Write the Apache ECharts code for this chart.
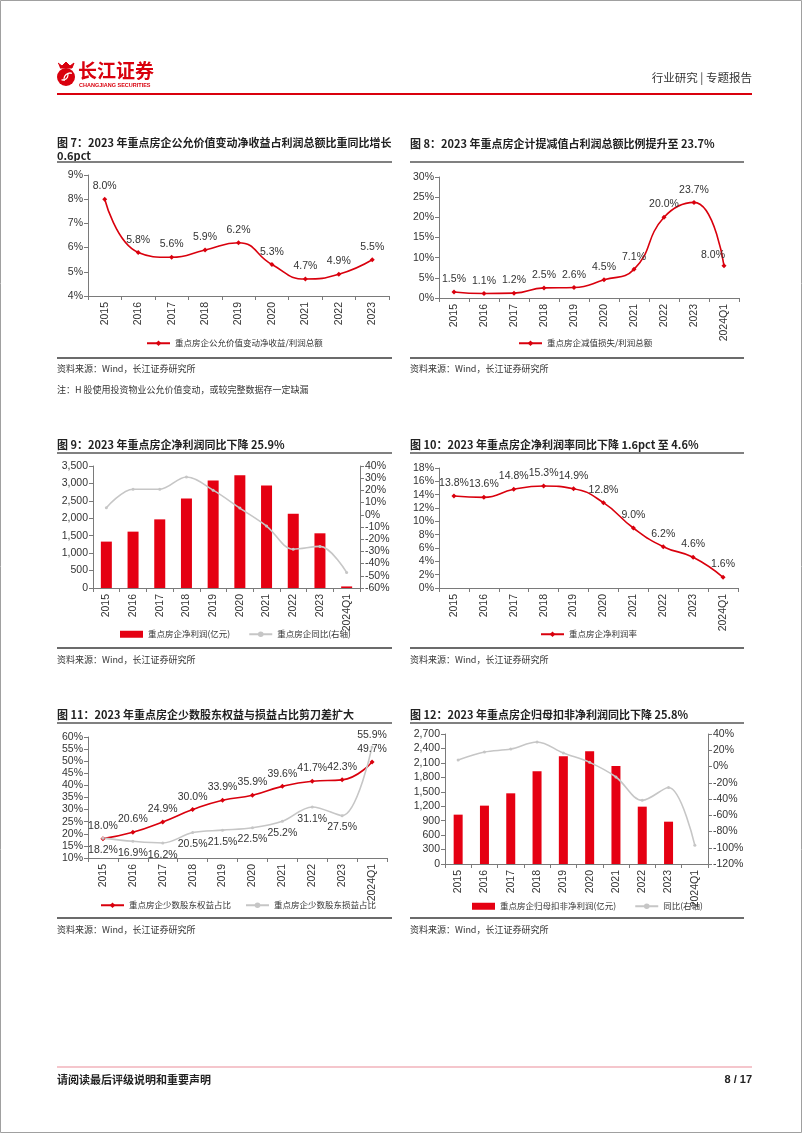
<!DOCTYPE html>
<html><head><meta charset="utf-8">
<script src="https://cdn.jsdelivr.net/npm/echarts@6/dist/echarts.min.js"></script>
<style>html,body{margin:0;padding:0;background:#fff}#c{width:802px;height:1133px}</style>
</head><body><div id="c"></div>
<script>
// ---------- data ----------
const years9 = ['2015','2016','2017','2018','2019','2020','2021','2022','2023'];
const years10 = ['2015','2016','2017','2018','2019','2020','2021','2022','2023','2024Q1'];
const fairValueRatio = [8.0,5.8,5.6,5.9,6.2,5.3,4.7,4.9,5.5];               // 图7 %
const impairRatio = [1.5,1.1,1.2,2.5,2.6,4.5,7.1,20.0,23.7,8.0];            // 图8 %
const netProfit = [1331,1617,1969,2568,3082,3234,2939,2130,1569,45];        // 图9 亿元
const netProfitYoy = [5.8,21.0,21.0,31.0,20.2,5.5,-9.2,-28.2,-25.9,-47.2];  // 图9 %
const netMargin = [13.8,13.6,14.8,15.3,14.9,12.8,9.0,6.2,4.6,1.6];          // 图10 %
const minorityEquity = [18.0,20.6,24.9,30.0,33.9,35.9,39.6,41.7,42.3,49.7]; // 图11 %
const minorityProfit = [18.2,16.9,16.2,20.5,21.5,22.5,25.2,31.1,27.5,55.9]; // 图11 %
const deductedProfit = [1025,1212,1468,1925,2236,2340,2035,1191,879,null];  // 图12 亿元
const deductedYoy = [8.0,17.8,21.5,30.2,16.6,5.1,-12.9,-41.6,-25.8,-97.0];  // 图12 %
// axis ranges [min, max, interval]
const ax7 = [4, 9, 1], ax8 = [0, 30, 5], ax9L = [0, 3500, 500], ax9R = [-60, 40, 10];
const ax10 = [0, 18, 2], ax11 = [10, 60, 5], ax12L = [0, 2700, 300], ax12R = [-120, 40, 20];

const titles = [
  '图 7：2023 年重点房企公允价值变动净收益占利润总额比重同比增长\n0.6pct',
  '图 8：2023 年重点房企计提减值占利润总额比例提升至 23.7%',
  '图 9：2023 年重点房企净利润同比下降 25.9%',
  '图 10：2023 年重点房企净利润率同比下降 1.6pct 至 4.6%',
  '图 11：2023 年重点房企少数股东权益与损益占比剪刀差扩大',
  '图 12：2023 年重点房企归母扣非净利润同比下降 25.8%'
];
const source = '资料来源：Wind，长江证券研究所';
const note = '注：H 股使用投资物业公允价值变动，或较完整数据存一定缺漏';

// ---------- styling ----------
const FONT = "'Liberation Sans','Noto Sans CJK SC',sans-serif";
const CJK = "'Noto Sans CJK SC','Liberation Sans',sans-serif";
const RED = '#d9000d', BAR = '#e50012', GREY = '#c6c6c6', AXIS = '#7a7a7a', TXT = '#333';
const FS = 10.5;

const grids = [
  {left:88, top:175, width:301, height:121},
  {left:439, top:177, width:300, height:121},
  {left:93, top:466, width:267, height:122},
  {left:439, top:468, width:299, height:120},
  {left:88, top:737, width:299, height:121},
  {left:445, top:734, width:263, height:130}
];

function xAx(g, cats){
  return {type:'category', gridIndex:g, data:cats, boundaryGap:true,
    axisLine:{lineStyle:{color:AXIS,width:1}},
    axisTick:{show:true, length:4, alignWithLabel:false, interval:0, lineStyle:{color:AXIS}},
    axisLabel:{interval:0, rotate:90, fontSize:FS, color:TXT, margin:6, fontFamily:FONT}};
}
function yAx(g, r, fmt, pos){
  return {type:'value', gridIndex:g, min:r[0], max:r[1], interval:r[2], position:pos||'left',
    splitLine:{show:false},
    axisLine:{show:true, lineStyle:{color:AXIS,width:1}},
    axisTick:{show:true, length:4, lineStyle:{color:AXIS}},
    axisLabel:{fontSize:FS, color:TXT, margin:5, fontFamily:FONT, formatter:fmt}};
}
const pctFmt = v => v + '%';
const numFmt = v => v.toLocaleString('en-US');
const lab = p => (p.value==null ? '' : Number(Array.isArray(p.value)?p.value[1]:p.value).toFixed(1) + '%');

function redLine(name, x, y, data, labelPos){
  return {name, type:'line', xAxisIndex:x, yAxisIndex:y, data, smooth:0.5,
    symbol:'diamond', symbolSize:5, showSymbol:true,
    lineStyle:{color:RED, width:1.6}, itemStyle:{color:RED},
    label:{show:true, position:labelPos||'top', distance:5, formatter:lab, fontSize:FS, color:TXT, fontFamily:FONT},
    z:3};
}
function greyLine(name, x, y, data, withLabel){
  return {name, type:'line', xAxisIndex:x, yAxisIndex:y, data, smooth:0.35,
    symbol:'circle', symbolSize:3, lineStyle:{color:GREY, width:1.6}, itemStyle:{color:GREY},
    label:{show:!!withLabel, position:'bottom', distance:5, formatter:lab, fontSize:FS, color:TXT, fontFamily:FONT},
    z:3};
}
function bar(name, x, y, data, w){
  return {name, type:'bar', xAxisIndex:x, yAxisIndex:y, data, barWidth:w, itemStyle:{color:BAR}, z:2};
}

const N7 = '重点房企公允价值变动净收益/利润总额';
const N8 = '重点房企减值损失/利润总额';
const N9a = '重点房企净利润(亿元)', N9b = '重点房企同比(右轴)';
const N10 = '重点房企净利润率';
const N11a = '重点房企少数股东权益占比', N11b = '重点房企少数股东损益占比';
const N12a = '重点房企归母扣非净利润(亿元)', N12b = '同比(右轴)';

const series = [
  redLine(N7, 0, 0, fairValueRatio),
  redLine(N8, 1, 1, impairRatio.map((v,i)=> i===impairRatio.length-1 ? {value:v, label:{offset:[-11,2]}} : v)),
  bar(N9a, 2, 2, netProfit, 11),
  greyLine(N9b, 2, 3, netProfitYoy, false),
  redLine(N10, 3, 4, netMargin),
  redLine(N11a, 4, 5, minorityEquity),
  greyLine(N11b, 4, 5, minorityProfit.map((v,i)=> i===minorityProfit.length-1 ? {value:v, label:{position:'top'}} : v), true),
  bar(N12a, 5, 6, deductedProfit, 9),
  greyLine(N12b, 5, 7, deductedYoy, false)
];

function legend(left, top, items, gap){
  return {left, top, orient:'horizontal', itemWidth:23, itemHeight:7, itemGap:gap||18,
    data:items, textStyle:{fontSize:8.5, color:TXT, fontFamily:CJK}, selectedMode:false};
}

// ---------- graphics ----------
const G = [];
function txt(x, y, s, font, fill, align, lh){
  G.push({type:'text', silent:true, style:{x, y, text:s, font, fill:fill||TXT,
    align:align||'left', verticalAlign:'middle', textAlign:align||'left', textVerticalAlign:'middle', lineHeight:lh||14}});
}
function hline(x1, x2, y, color, w){
  G.push({type:'line', silent:true, shape:{x1, y1:y, x2, y2:y}, style:{stroke:color, lineWidth:w}});
}
// page border
G.push({type:'rect', silent:true, shape:{x:0.5, y:0.5, width:801, height:1132}, style:{fill:'none', stroke:'#a0a0a0', lineWidth:1}});
// logo
G.push({type:'circle', silent:true, shape:{cx:66, cy:77, r:9}, style:{fill:RED}});
G.push({type:'arc', silent:true, shape:{cx:70, cy:79, r:6, startAngle:Math.PI*0.9, endAngle:Math.PI*1.6}, style:{stroke:'#fff', lineWidth:1.3, fill:'none'}});
G.push({type:'arc', silent:true, shape:{cx:63, cy:75, r:5, startAngle:-Math.PI*0.1, endAngle:Math.PI*0.6}, style:{stroke:'#fff', lineWidth:1.3, fill:'none'}});
G.push({type:'polyline', silent:true, shape:{points:[[58,63],[62,66],[66,62],[70,66],[74,63],[72,68],[60,68]]}, style:{stroke:RED, fill:RED, lineWidth:1}});
txt(78, 71, '长江证券', "bold 19px 'Noto Sans CJK SC'", RED);
txt(79, 85, 'CHANGJIANG SECURITIES', "bold 5.5px 'Liberation Sans'", RED);
txt(752, 78, '行业研究 | 专题报告', "11.5px 'Noto Sans CJK SC'", TXT, 'right');
hline(57, 752, 94, RED, 2.2);
// titles / rules / sources
const TL = 57, TR = 410;
const TF = "bold 11px 'Noto Sans CJK SC'";
txt(TL, 149.5, titles[0], TF, '#222', 'left', 13);
txt(TR, 144, titles[1], TF, '#222');
txt(TL, 445, titles[2], TF, '#222');
txt(TR, 445, titles[3], TF, '#222');
txt(TL, 715, titles[4], TF, '#222');
txt(TR, 715, titles[5], TF, '#222');
[[162,358],[453,648],[723,918]].forEach(([t,b])=>{
  hline(57, 392, t, '#808080', 2); hline(410, 744, t, '#808080', 2);
  hline(57, 392, b, '#3a3a3a', 1.4); hline(410, 744, b, '#3a3a3a', 1.4);
});
const SF = "9px 'Noto Sans CJK SC'";
[369, 660, 930].forEach(y=>{
  txt(TL, y, source, SF, TXT);
  txt(TR, y, source, SF, TXT);
});
txt(TL, 390, note, SF, TXT);
// footer
hline(57, 752, 1067, '#f2b3bb', 1.5);
txt(57, 1080, '请阅读最后评级说明和重要声明', "bold 11px 'Noto Sans CJK SC'", '#222');
txt(752, 1080, '8 / 17', "bold 11px 'Liberation Sans'", '#222', 'right');

const option = {
  animation:false,
  backgroundColor:'#fff',
  textStyle:{fontFamily:FONT},
  grid:grids,
  xAxis:[xAx(0,years9), xAx(1,years10), xAx(2,years10), xAx(3,years10), xAx(4,years10), xAx(5,years10)],
  yAxis:[
    yAx(0, ax7, pctFmt), yAx(1, ax8, pctFmt),
    yAx(2, ax9L, numFmt), yAx(2, ax9R, pctFmt, 'right'),
    yAx(3, ax10, pctFmt), yAx(4, ax11, pctFmt),
    yAx(5, ax12L, numFmt), yAx(5, ax12R, pctFmt, 'right')
  ],
  legend:[
    legend(141, 334, [N7]),
    legend(513, 334, [N8]),
    legend(115, 625, [{name:N9a, icon:'rect'}, N9b], 18),
    legend(535, 625, [N10]),
    legend(95, 896, [N11a, N11b], 14),
    legend(467, 897, [{name:N12a, icon:'rect'}, N12b], 18)
  ],
  series,
  graphic:G
};
const chart = echarts.init(document.getElementById('c'), null, {renderer:'canvas'});
chart.setOption(option);
</script></body></html>
